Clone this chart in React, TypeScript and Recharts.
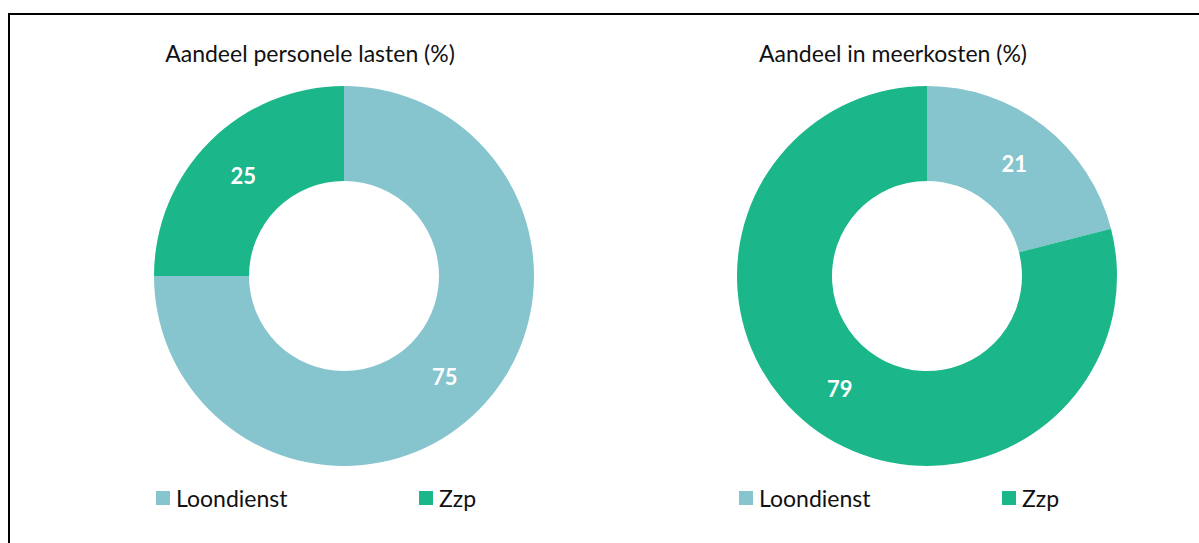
import React from 'react';
import { PieChart, Pie, Cell, Legend } from 'recharts';

const categories = ['Loondienst', 'Zzp'];
const personeleLasten = [75, 25];
const meerkosten = [21, 79];
const titles = ['Aandeel personele lasten (%)', 'Aandeel in meerkosten (%)'];
const colors = ['#86C4CE', '#1BB68A'];

const FONT = 'Lato, "Open Sans", sans-serif';
const RAD = Math.PI / 180;

const renderLabel = (props: any) => {
  const { cx, cy, midAngle, innerRadius, outerRadius, value } = props;
  const r = (innerRadius + outerRadius) / 2;
  const x = cx + r * Math.cos(-midAngle * RAD);
  const y = cy + r * Math.sin(-midAngle * RAD);
  return (
    <text x={x} y={y} fill="#fff" textAnchor="middle" dominantBaseline="central"
      fontFamily={FONT} fontWeight={700} fontSize={22}>
      {value}
    </text>
  );
};

const LegendContent = () => (
  <div style={{ display: 'flex', fontFamily: FONT, fontSize: 23, color: '#111', lineHeight: '28px' }}>
    {categories.map((c, i) => (
      <div key={c} style={{ width: 263, flexShrink: 0, display: 'flex', alignItems: 'center' }}>
        <span style={{ width: 14, height: 14, background: colors[i], display: 'inline-block', marginRight: 6 }} />
        {c}
      </div>
    ))}
  </div>
);

const Donut: React.FC<{ title: string; values: number[]; left: number }> = ({ title, values, left }) => {
  const data = categories.map((name, i) => ({ name, value: values[i] }));
  return (
    <div style={{ position: 'absolute', left, top: 0 }}>
      <PieChart width={583} height={543}>
        <text x={258} y={53} textAnchor="middle" dominantBaseline="central"
          fontFamily={FONT} fontSize={23} fill="#111">{title}</text>
        <Pie data={data} dataKey="value" nameKey="name" cx={287} cy={271}
          innerRadius={95} outerRadius={190} startAngle={90} endAngle={-270}
          stroke="none" label={renderLabel} labelLine={false} isAnimationActive={false}>
          {data.map((d, i) => <Cell key={d.name} fill={colors[i]} />)}
        </Pie>
        <Legend content={<LegendContent />}
          wrapperStyle={{ position: 'absolute', left: 104, top: 484, width: 540 }} />
      </PieChart>
    </div>
  );
};

export default function App() {
  return (
    <div style={{ position: 'fixed', left: 0, top: 0, width: 1199, height: 543, background: '#fff', overflow: 'hidden' }}>
      <div style={{ position: 'absolute', left: 8, top: 13, width: 1199, height: 540,
        borderTop: '2px solid #000', borderLeft: '2px solid #000' }} />
      <Donut title={titles[0]} values={personeleLasten} left={52} />
      <Donut title={titles[1]} values={meerkosten} left={635} />
    </div>
  );
}
